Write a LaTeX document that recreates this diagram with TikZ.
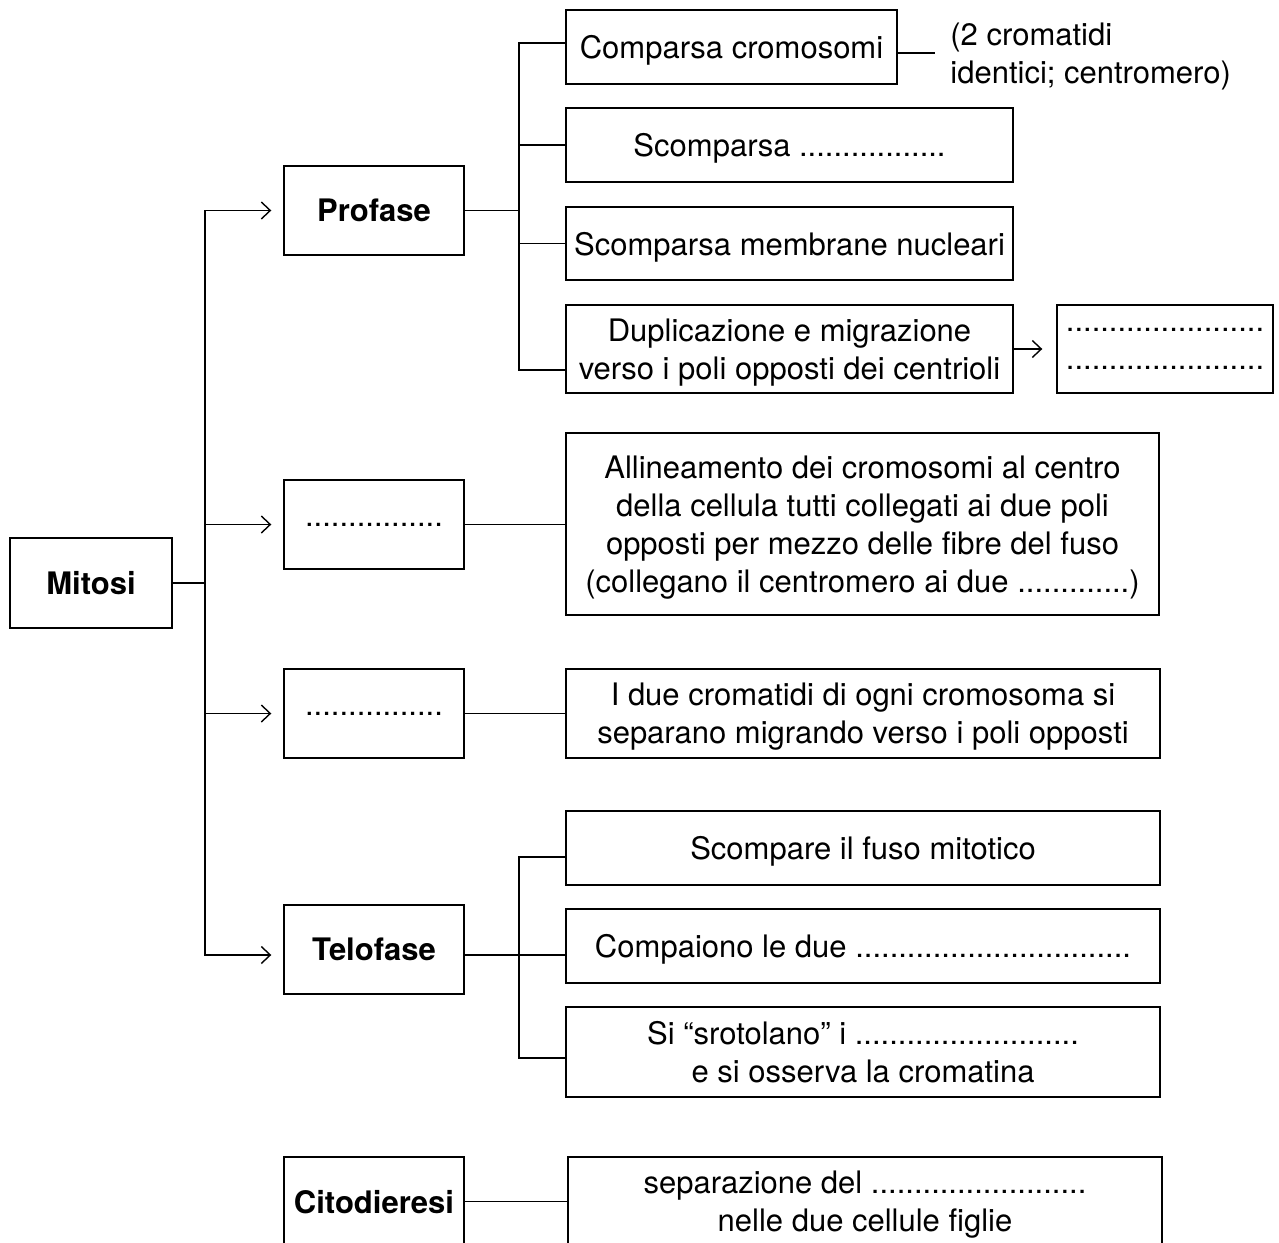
\documentclass[tikz,border=0pt]{standalone}
\usepackage{fontspec}
\setmainfont{TeX Gyre Heros}
\usepackage{tikz}
\usetikzlibrary{arrows.meta, positioning, calc}

\begin{document}
\begin{tikzpicture}[x=0.5pt, y=-0.5pt,
    box/.style={draw, line width=0.7pt, inner sep=0pt, align=center, text depth=0pt,
      font=\fontsize{15.5}{19}\selectfont},
    phase/.style={box, minimum width=90pt, minimum height=44.5pt,
      font=\fontsize{15.5}{19}\selectfont\bfseries},
    link/.style={line width=0.7pt},
    arr/.style={link, -{Straight Barb[length=4.5pt, width=8.5pt]}, shorten >=6pt}]
  \useasboundingbox (0,0) rectangle (1279,1242);
  \clip (0,0) rectangle (1279,1242);
  % Root and phases
  \node[box, font=\fontsize{15.5}{19}\selectfont\bfseries,
    minimum width=81pt, minimum height=45pt] (mitosi) at (91,583) {Mitosi};
  \node[phase] (profase) at (374,210.5) {Profase};
  \node[phase, font=\fontsize{15.5}{19}\selectfont] (metafase) at (374,524.5) {................};
  \node[phase, font=\fontsize{15.5}{19}\selectfont] (anafase) at (374,713.5) {................};
  \node[phase] (telofase) at (374,949.5) {Telofase};
  \node[phase] (citodieresi) at (374,1201.5) {Citodieresi};
  % Profase boxes
  \node[box, minimum width=165.5pt, minimum height=37pt] (p1) at (731.5,47) {Comparsa cromosomi};
  \node[box, minimum width=223.5pt, minimum height=37pt] (p2) at (789.5,145) {Scomparsa .................};
  \node[box, minimum width=223.5pt, minimum height=36.5pt] (p3) at (789.5,243.5) {Scomparsa membrane nucleari};
  \node[box, minimum width=223.5pt, minimum height=44pt] (p4) at (789.5,349)
    {Duplicazione e migrazione\\verso i poli opposti dei centrioli};
  \node[box, minimum width=108pt, minimum height=44pt] (p5) at (1165,349)
    {.......................\\.......................};
  \node[anchor=west, align=left, inner sep=0pt, font=\fontsize{15.5}{19}\selectfont]
    (nota) at (950,56) {(2 cromatidi\\identici; centromero)};
  % Metafase and anafase boxes
  \node[box, minimum width=296.5pt, minimum height=91pt] (m1) at (862.5,524)
    {Allineamento dei cromosomi al centro\\della cellula tutti collegati ai due poli\\
     opposti per mezzo delle fibre del fuso\\(collegano il centromero ai due .............)};
  \node[box, minimum width=297pt, minimum height=44.5pt] (a1) at (863,713.5)
    {I due cromatidi di ogni cromosoma si\\separano migrando verso i poli opposti};
  % Telofase boxes
  \node[box, minimum width=297pt, minimum height=37pt] (t1) at (863,848) {Scompare il fuso mitotico};
  \node[box, minimum width=297pt, minimum height=37pt] (t2) at (863,946) {Compaiono le due ................................};
  \node[box, minimum width=297pt, minimum height=45pt] (t3) at (863,1052)
    {Si “srotolano” i ..........................\\e si osserva la cromatina};
  % Citodieresi box
  \node[box, minimum width=297pt, minimum height=44.5pt] (c1) at (865,1201.5)
    {separazione del .........................\\nelle due cellule figlie};
  % Connectors
  \coordinate (trunk) at (205,583);
  \coordinate (pj) at (519,210.5);
  \coordinate (tj) at (519,955);
  \draw[link] (mitosi) -- (trunk);
  \draw[arr] (trunk) |- (profase.west);
  \draw[arr] (trunk) |- (metafase.west);
  \draw[arr] (trunk) |- (anafase.west);
  \draw[arr] (trunk) |- ($(telofase.west)+(0,5.5)$);
  \draw[link] (profase.east) -- (pj);
  \draw[link] (pj) |- ($(p1.west)+(0,-4)$);
  \draw[link] (pj) |- (p2.west);
  \draw[link] (pj) |- (p3.west);
  \draw[link] (pj) |- ($(p4.west)+(0,21)$);
  \draw[link] ($(p1.east)+(0,6)$) -- ($(nota.west)+(-15,-3)$);
  \draw[arr, shorten >=7pt] (p4.east) -- (p5.west);
  \draw[link] (metafase.east) -- (m1.west |- metafase.east);
  \draw[link] (anafase.east) -- (a1.west |- anafase.east);
  \draw[link] ($(telofase.east)+(0,5.5)$) -- (tj);
  \draw[link] (tj) |- ($(t1.west)+(0,9)$);
  \draw[link] (tj) |- (t2.west |- tj);
  \draw[link] (tj) |- ($(t3.west)+(0,6)$);
  \draw[link] (citodieresi.east) -- (c1.west);
\end{tikzpicture}
\end{document}
